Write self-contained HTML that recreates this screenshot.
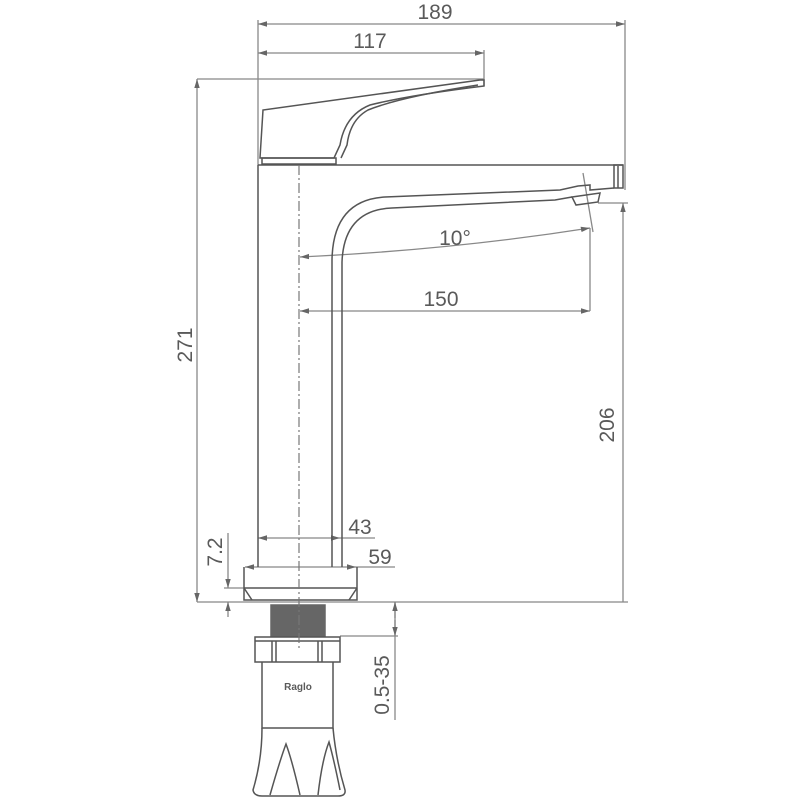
<!DOCTYPE html>
<html><head><meta charset="utf-8"><style>
html,body{margin:0;padding:0;background:#fff;}
svg{display:block;}
text{font-family:"Liberation Sans",sans-serif;fill:#5a5a5a;}
</style></head><body>
<svg width="800" height="800" viewBox="0 0 800 800" xmlns="http://www.w3.org/2000/svg">
<defs>
<marker id="a" viewBox="0 0 10 10" refX="10" refY="5" markerWidth="7" markerHeight="7" orient="auto-start-reverse"><path d="M0,2 L10,5 L0,8 z" fill="#666"/></marker>
</defs>
<g stroke="#888" stroke-width="1.3" fill="none">
<line x1="258" y1="24" x2="625" y2="24" marker-start="url(#a)" marker-end="url(#a)"/>
<line x1="258" y1="20" x2="258" y2="165"/>
<line x1="625" y1="20" x2="625" y2="190"/>
<line x1="258" y1="53" x2="484" y2="53" marker-start="url(#a)" marker-end="url(#a)"/>
<line x1="484" y1="50" x2="484" y2="86"/>
<line x1="197" y1="79" x2="484" y2="79"/>
<line x1="197" y1="79" x2="197" y2="602" marker-start="url(#a)" marker-end="url(#a)"/>
<line x1="598" y1="203" x2="628" y2="203"/>
<line x1="623" y1="203" x2="623" y2="602" marker-start="url(#a)"/>
<line x1="197" y1="602" x2="628" y2="602"/>
<line x1="583" y1="173" x2="593" y2="232"/>
<path d="M300,257 Q450,250 590,228" marker-start="url(#a)" marker-end="url(#a)"/>
<line x1="300" y1="311" x2="590" y2="311" marker-start="url(#a)" marker-end="url(#a)"/>
<line x1="590" y1="228" x2="590" y2="311"/>
<line x1="258" y1="538" x2="340" y2="538" marker-start="url(#a)" marker-end="url(#a)"/>
<line x1="340" y1="538" x2="375" y2="538"/>
<line x1="245" y1="567" x2="356" y2="567" marker-start="url(#a)" marker-end="url(#a)"/>
<line x1="356" y1="567" x2="395" y2="567"/>
<line x1="228" y1="533" x2="228" y2="588" marker-end="url(#a)"/>
<line x1="228" y1="617" x2="228" y2="602" marker-end="url(#a)"/>
<line x1="224" y1="588" x2="245" y2="588"/>
<line x1="395" y1="602" x2="395" y2="720" />
<line x1="395" y1="618" x2="395" y2="602" marker-end="url(#a)"/>
<line x1="395" y1="620" x2="395" y2="636" marker-end="url(#a)"/>
<line x1="340" y1="636" x2="398" y2="636"/>
</g>
<g stroke="#555" stroke-width="1.5" fill="none">
<path d="M260,158 L263,110 L480,80 L484,80 L484,86 Q410,95 370,105 Q345,115 340,145 L334,158 Z"/>
<path d="M478,85 Q400,97 368,110 Q350,120 347,145 L341,158"/>
<rect x="262" y="158" width="74" height="6"/>
<line x1="258" y1="165" x2="623" y2="165"/>
<line x1="258" y1="165" x2="258" y2="567"/>
<rect x="614" y="165" width="9" height="23"/>
<line x1="618" y1="166" x2="618" y2="188"/>
<path d="M332,567 L332,260 Q333,200 385,197 L560,190 L578,186 L590,185 L590,190 L614,188"/>
<path d="M342,567 L342,262 Q344,210 392,208 L555,200 L572,197"/>
<path d="M572,197 L600,193 L598,202 L576,205 Z"/>
<path d="M244,567 L244,600 L357,600 L357,567"/>
<path d="M244,588 L357,588 M244,588 L252,600 M357,588 L349,600"/>
<rect x="271" y="605" width="54" height="31" fill="#666" stroke="#666"/>
<rect x="255" y="637" width="85" height="25"/>
<line x1="255" y1="641" x2="340" y2="641"/>
<path d="M272,641 V662 M276,641 V662 M318,641 V662 M322,641 V662"/>
<path d="M262,662 L262,728 L333,728 L333,662"/>
<path d="M262,728 Q262,760 253,790 Q254,796 262,796 L338,796 Q346,796 345,790 Q336,760 333,728"/>
<path d="M270,795 Q280,760 286,744 Q292,760 300,795"/>
<path d="M318,795 Q322,760 329,742 Q334,760 340,790"/>
</g>
<line x1="299" y1="165" x2="299" y2="650" stroke="#777" stroke-width="1.2" stroke-dasharray="10,3,2,3"/>
<text x="435" y="19" font-size="21" text-anchor="middle">189</text>
<text x="370" y="48" font-size="21" text-anchor="middle">117</text>
<text x="455" y="245" font-size="21" text-anchor="middle">10°</text>
<text x="441" y="306" font-size="21" text-anchor="middle">150</text>
<text x="360" y="534" font-size="21" text-anchor="middle">43</text>
<text x="380" y="564" font-size="21" text-anchor="middle">59</text>
<text transform="translate(192,345) rotate(-90)" font-size="21" text-anchor="middle">271</text>
<text transform="translate(614,425) rotate(-90)" font-size="21" text-anchor="middle">206</text>
<text transform="translate(222,552) rotate(-90)" font-size="21" text-anchor="middle">7.2</text>
<text transform="translate(389,685) rotate(-90)" font-size="21" text-anchor="middle">0.5-35</text>
<text x="298" y="690" font-size="10" font-weight="bold" text-anchor="middle">Raglo</text>
</svg>
</body></html>
